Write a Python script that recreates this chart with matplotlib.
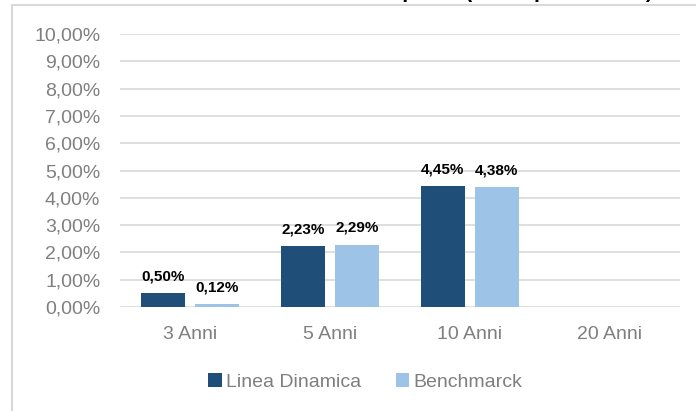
import numpy as np
import matplotlib.pyplot as plt
from matplotlib.patches import Rectangle
from matplotlib.ticker import FuncFormatter

plt.rcParams['font.family'] = ['Liberation Sans', 'DejaVu Sans']

categorie = ['3 Anni', '5 Anni', '10 Anni', '20 Anni']
linea_dinamica = [0.50, 2.23, 4.45, np.nan]
benchmarck = [0.12, 2.29, 4.38, np.nan]
serie = ['Linea Dinamica', 'Benchmarck']
colori = ['#1F4E79', '#9DC3E6']
grigio = '#7F7F7F'

fig = plt.figure(figsize=(6.96, 4.11), dpi=100)
ax = fig.add_axes([0.172, 0.253, 0.805, 0.664])

# cornice del grafico
fig.patches.append(Rectangle((12 / 696, -0.1), 1.0, 1 - 5 / 411 + 0.1, transform=fig.transFigure,
                             fill=False, edgecolor='#D9D9D9', linewidth=1.5))
# titolo tagliato in alto (si vede solo il fondo delle lettere)
fig.text(40 / 696, 1 + 1.5 / 411, 'Rendimento netto medio annuo composto (valori percentuali)',
         ha='left', va='baseline', fontsize=15, fontweight='bold', color='black')

x = np.arange(len(categorie))
w = 0.314
off = 0.036 + w / 2
for i, (vals, nome) in enumerate(zip([linea_dinamica, benchmarck], serie)):
    pos = x + (-off if i == 0 else off)
    ax.bar(pos, vals, width=w, color=colori[i], label=nome, zorder=3)
    for p, v in zip(pos, vals):
        if not np.isnan(v):
            ax.text(p, v + 0.35, f'{v:.2f}%'.replace('.', ','), ha='center', va='bottom',
                    fontsize=11, fontweight='bold', color='black')

ax.set_xlim(-0.5, 3.5)
ax.set_ylim(0, 10)
ax.set_yticks(np.arange(0, 11, 1))
ax.yaxis.set_major_formatter(FuncFormatter(lambda v, _: f'{v:.2f}%'.replace('.', ',')))
ax.set_xticks(x)
ax.set_xticklabels(categorie)
ax.tick_params(axis='both', length=0, labelsize=14, labelcolor=grigio)
ax.tick_params(axis='y', pad=14)
ax.tick_params(axis='x', pad=14)
ax.grid(axis='y', color='#D9D9D9', linewidth=1.2, zorder=0)
for s in ax.spines.values():
    s.set_visible(False)

fig.legend(loc='center', bbox_to_anchor=(365 / 696, 1 - 382 / 411), ncol=2, frameon=False,
           fontsize=14, labelcolor=grigio, handlelength=0.7, handleheight=0.7,
           handletextpad=0.2, columnspacing=1.8)

fig.savefig('out.png', dpi=100)
